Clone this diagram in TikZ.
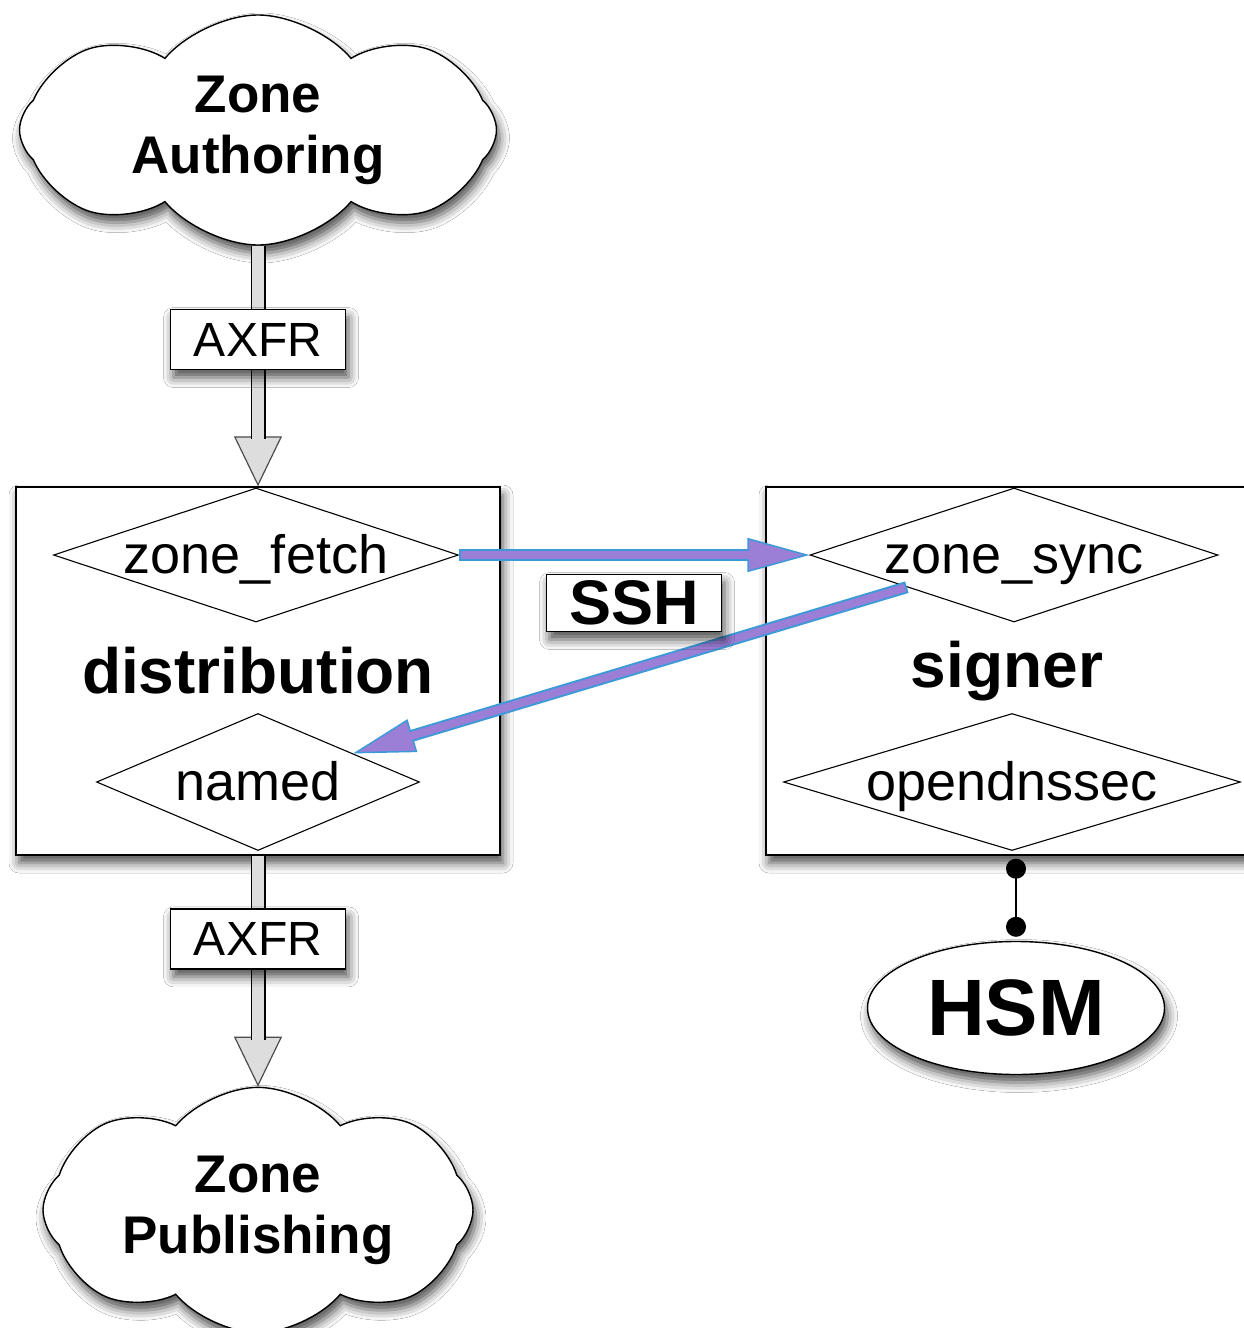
\documentclass[tikz,border=0pt]{standalone}
\usepackage{fontspec}
\setmainfont{Liberation Sans}
\usetikzlibrary{shapes.geometric,shapes.symbols,arrows.meta,shadows.blur}
\definecolor{sshblue}{HTML}{3D9AD9}
\definecolor{sshpurple}{HTML}{9B7FD6}
\definecolor{axfrgray}{HTML}{DDDDDD}
\newcommand\sshArrow[2]{%
  \draw[sshblue, line width=1.5pt, -{Triangle[length=62pt,width=34pt,fill=sshpurple]}] (#1) -- (#2);
  \draw[sshblue, line width=12pt, shorten >=60pt] (#1) -- (#2);
  \draw[sshpurple, line width=8pt, shorten >=59pt, shorten <=2pt] (#1) -- (#2);
}
\begin{document}
\begin{tikzpicture}[x=1pt,y=-1pt,
  shad/.style={blur shadow={shadow xshift=3pt,shadow yshift=-8pt,shadow blur radius=10pt,shadow opacity=70}},
  cloudnode/.style={cloud, cloud puffs=8, cloud puff arc=100, aspect=2,
     draw, line width=1.4pt, fill=white, shad, align=center, inner sep=0pt,
     font=\fontsize{53}{61}\selectfont\bfseries},
  boxnode/.style={rectangle, draw, line width=1.4pt, fill=white, shad, inner sep=0pt,
     font=\fontsize{64}{70}\selectfont\bfseries},
  procnode/.style={diamond, draw, line width=1.1pt, aspect=3, inner xsep=-60pt, inner ysep=-25pt,
     text height=44pt, text depth=8pt, font=\fontsize{54}{60}\selectfont},
  labelnode/.style={rectangle, draw=black, text=black, line width=1.4pt, fill=white, shad, inner sep=0pt},
  hollowtip/.style={draw=black!70, line width=1.2pt, -{Triangle[length=50pt,width=48pt,fill=axfrgray]}},
  hollowouter/.style={black, line width=15pt, shorten >=47pt},
  hollowinner/.style={axfrgray, line width=12pt, shorten >=46pt},
  dotline/.style={black, line width=1.6pt, {Circle[length=20pt]}-{Circle[length=20pt]}}
]
\clip (0,0) rectangle (1244,1328);
\fill[white] (0,0) rectangle (1244,1328);

% boxes
\node[boxnode, minimum width=484pt, minimum height=368pt] (dist) at (258,671) {distribution};
\node[boxnode, minimum width=496pt, minimum height=368pt] (sign) at (1014,671) {\hspace*{-14pt}signer};

% clouds
\node[cloudnode, minimum width=477pt, minimum height=230pt] (za) at (258,130) {Zone\\Authoring};
\node[cloudnode, minimum width=430pt, minimum height=236pt] (zp) at (258,1210) {Zone\\Publishing};

% diamonds
\node[procnode, minimum width=405pt, minimum height=134pt] (zf) at (256,555) {zone\_fetch};
\node[procnode, minimum width=323pt, minimum height=137pt] (nm) at (258,782) {named};
\node[procnode, minimum width=408pt, minimum height=134pt] (zs) at (1014,555) {zone\_sync};
\node[procnode, minimum width=457pt, minimum height=137pt] (od) at (1012,782) {opendnssec};

% HSM
\node[ellipse, draw, line width=1.4pt, fill=white, shad, inner sep=0pt, minimum width=297pt,
      minimum height=133pt, font=\fontsize{80}{84}\selectfont\bfseries] (hsm) at (1016,1008) {HSM};

% AXFR arrows
\draw[hollowtip] (za) -- (dist.north);
\draw[hollowouter] (za) -- (dist.north);
\draw[hollowinner] (za) -- (dist.north);
\path (za) -- (dist.north)
  node[labelnode, pos=0.39, minimum width=175pt, minimum height=60pt, font=\fontsize{48}{52}\selectfont] (ax1) {AXFR};

\draw[hollowtip] (dist.south) -- (zp);
\draw[hollowouter] (dist.south) -- (zp);
\draw[hollowinner] (dist.south) -- (zp);
\path (dist.south) -- (zp)
  node[labelnode, pos=0.36, minimum width=175pt, minimum height=60pt, font=\fontsize{48}{52}\selectfont] (ax2) {AXFR};

% SSH arrows
\sshArrow{zf.east}{zs.west}
\sshArrow{zs}{nm}
\node[labelnode, minimum width=175pt, minimum height=57pt, font=\fontsize{63}{66}\selectfont\bfseries]
  (ssh) at (634,603) {SSH};

% HSM connector
\draw[dotline, shorten <=3pt, shorten >=4pt] (sign.south -| hsm.north) -- (hsm.north);
\end{tikzpicture}
\end{document}
